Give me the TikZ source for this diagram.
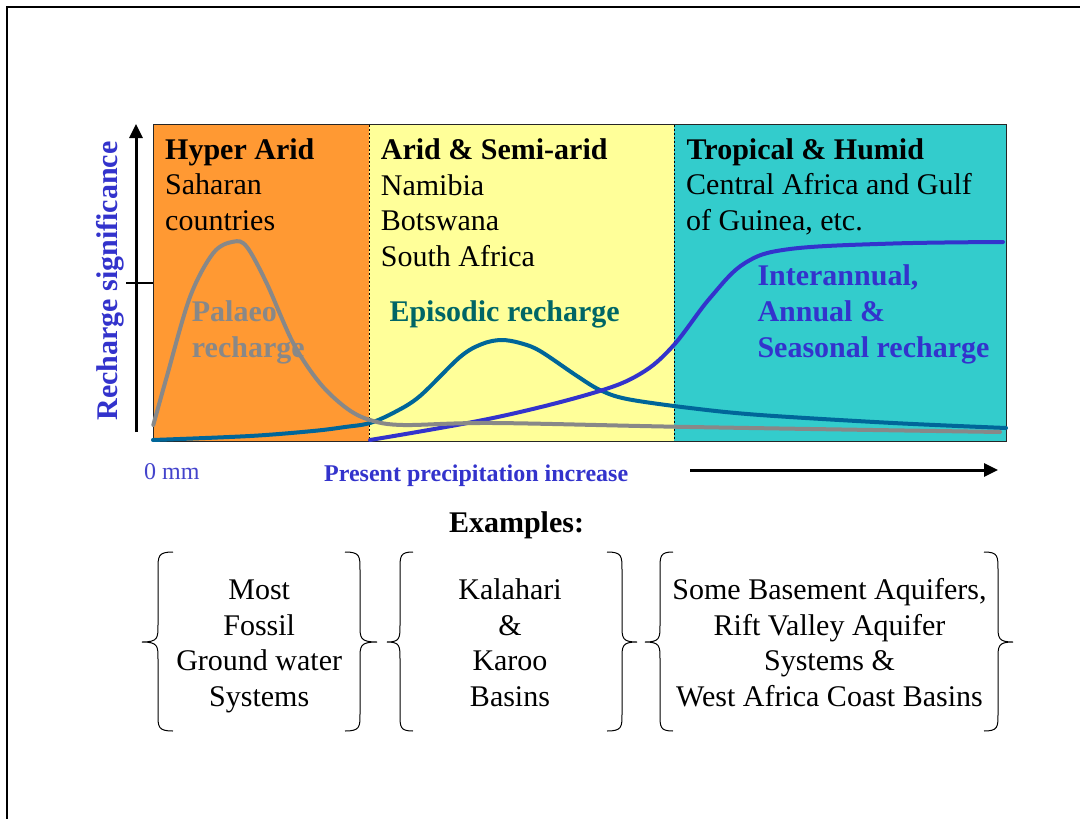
\documentclass[tikz,border=0pt]{standalone}
\usepackage{fontspec}
\setmainfont{Liberation Serif}
\usetikzlibrary{arrows.meta}
\definecolor{orng}{HTML}{FF9933}
\definecolor{ylw}{HTML}{FFFF99}
\definecolor{cyn}{HTML}{33CCCC}
\definecolor{rblue}{HTML}{3333CC}
\definecolor{lblue}{HTML}{4444CC}
\definecolor{tealtxt}{HTML}{006666}
\definecolor{tealcur}{HTML}{006699}
\definecolor{gry}{HTML}{888888}
\newcommand\leftbrc[3]{% tip, body, end x
  \draw[brc] (#3,552) .. controls (#2,552) and (#2,556) .. (#2,570) -- (#2,625)
    .. controls (#2,638) and (#2,642) .. (#1,642)
    .. controls (#2,642) and (#2,646) .. (#2,659) -- (#2,714)
    .. controls (#2,727) and (#2,731) .. (#3,731);}
\begin{document}
\begin{tikzpicture}[x=1pt,y=-1pt,
  txt/.style={inner sep=0pt, anchor=base west, font=\fontsize{30}{36}\selectfont},
  btxt/.style={inner sep=0pt, anchor=base west, font=\fontsize{30}{36}\selectfont\bfseries},
  ctxt/.style={inner sep=0pt, anchor=base, font=\fontsize{30}{36}\selectfont},
  curve/.style={line width=4pt, line cap=round, line join=round},
  brc/.style={line width=1pt},
  axisarrow/.style={line width=3pt, -{Triangle[length=14pt,width=13pt]}}]
\useasboundingbox (0,0) rectangle (1080,819);
\fill[white] (0,0) rectangle (1080,819);
% frame
\draw[line width=2pt] (1080,7.3) -- (6.7,7.3) -- (6.7,819);
% regions
\fill[orng] (153.3,124.7) rectangle (369,441);
\fill[ylw] (369,124.7) rectangle (674,441);
\fill[cyn] (674,124.7) rectangle (1006,441);
\draw[line width=0.8pt, dash pattern=on 2pt off 2pt] (369,124.7) -- (369,441);
\draw[line width=0.8pt, dash pattern=on 2pt off 2pt] (674,124.7) -- (674,441);
\draw[line width=1pt, black!85] (153.3,124.7) rectangle (1006,441);
% region texts
\node[btxt] (ha) at (165,159.3) {Hyper Arid};
\node[txt] (ha1) at (165,194.6) {Saharan};
\node[txt] (ha2) at (165,230) {countries};
\node[btxt] (as) at (380.7,159.3) {Arid \& Semi-arid};
\node[txt] (as1) at (380.7,195) {Namibia};
\node[txt] (as2) at (380.7,230.8) {Botswana};
\node[txt] (as3) at (380.7,266.6) {South Africa};
\node[btxt] (th) at (686.5,159.3) {Tropical \& Humid};
\node[txt] (th1) at (686,194.6) {Central Africa and Gulf};
\node[txt] (th2) at (686,230) {of Guinea, etc.};
% curves
\draw[curve, tealcur] plot[smooth, tension=0.55] coordinates {(153,440) (250,436) (313,431) (345,427) (370,423) (395,412) (420,396) (460,357) (482,344) (501,340) (520,343) (540,351) (577,376) (600,390) (627,399) (690,408) (760,415) (893,423) (1006,428)};
\draw[curve, rblue] plot[smooth, tension=0.6] coordinates {(370,440) (493,418) (593,393) (640,374) (673,346) (710,298) (745,263) (790,249) (893,243.5) (1003,242)};
\draw[curve, gry] plot[smooth, tension=0.55] coordinates {(153.3,425) (166.7,377) (190,297) (213.3,253) (233.3,241.7) (246.7,246.7) (266.7,283.3) (293.3,343.3) (320,383.3) (346.7,408.3) (370,420) (403,425) (493,423) (690,427) (1000,432)};
% curve labels
\node[btxt, text=gry] (pa1) at (191.7,321.7) {Palaeo};
\node[btxt, text=gry] (pa2) at (191.7,357.3) {recharge};
\node[btxt, text=tealtxt] (ep) at (389.3,321.7) {Episodic recharge};
\node[btxt, text=rblue] (ia1) at (757.3,285.5) {Interannual,};
\node[btxt, text=rblue] (ia2) at (757.3,321.7) {Annual \&};
\node[btxt, text=rblue] (ia3) at (757.3,357.3) {Seasonal recharge};
% axes
\coordinate (ybot) at (136,432);
\coordinate (ytop) at (136,124);
\draw[axisarrow] (ybot) -- (ytop);
\coordinate (tickl) at (126,283.3);
\coordinate (tickr) at (153.3,283.3);
\draw[line width=2pt] (tickl) -- (tickr);
\node[inner sep=0pt, anchor=base, rotate=90, text=rblue, font=\fontsize{30}{36}\selectfont\bfseries] (ylab) at (117,281) {Recharge significance};
\coordinate (xl) at (690,470);
\coordinate (xr) at (998,470);
\draw[axisarrow] (xl) -- (xr);
\node[inner sep=0pt, anchor=base west, text=lblue, font=\fontsize{24}{28}\selectfont] (zero) at (144,479.5) {0 mm};
\node[inner sep=0pt, anchor=base west, text=rblue, font=\fontsize{24}{28}\selectfont\bfseries] (xlab) at (324,481) {Present precipitation increase};
\node[inner sep=0pt, anchor=base, font=\fontsize{30}{36}\selectfont\bfseries] (ex) at (516.5,532) {Examples:};
% braces
\leftbrc{142}{158}{173}
\leftbrc{377}{360}{345}
\leftbrc{387}{400}{413}
\leftbrc{637}{622}{607}
\leftbrc{645}{660}{673}
\leftbrc{1013}{998}{984}
% example texts
\node[ctxt] (g1a) at (259.2,599.5) {Most};
\node[ctxt] (g1b) at (259.2,635) {Fossil};
\node[ctxt] (g1c) at (259.2,670.5) {Ground water};
\node[ctxt] (g1d) at (259.2,706) {Systems};
\node[ctxt] (g2a) at (510,599.5) {Kalahari};
\node[ctxt] (g2b) at (510,635) {\&};
\node[ctxt] (g2c) at (510,670.5) {Karoo};
\node[ctxt] (g2d) at (510,706) {Basins};
\node[ctxt] (g3a) at (829.5,599.5) {Some Basement Aquifers,};
\node[ctxt] (g3b) at (829.5,635) {Rift Valley Aquifer};
\node[ctxt] (g3c) at (829.5,670.5) {Systems \&};
\node[ctxt] (g3d) at (829.5,706) {West Africa Coast Basins};
\end{tikzpicture}
\end{document}
